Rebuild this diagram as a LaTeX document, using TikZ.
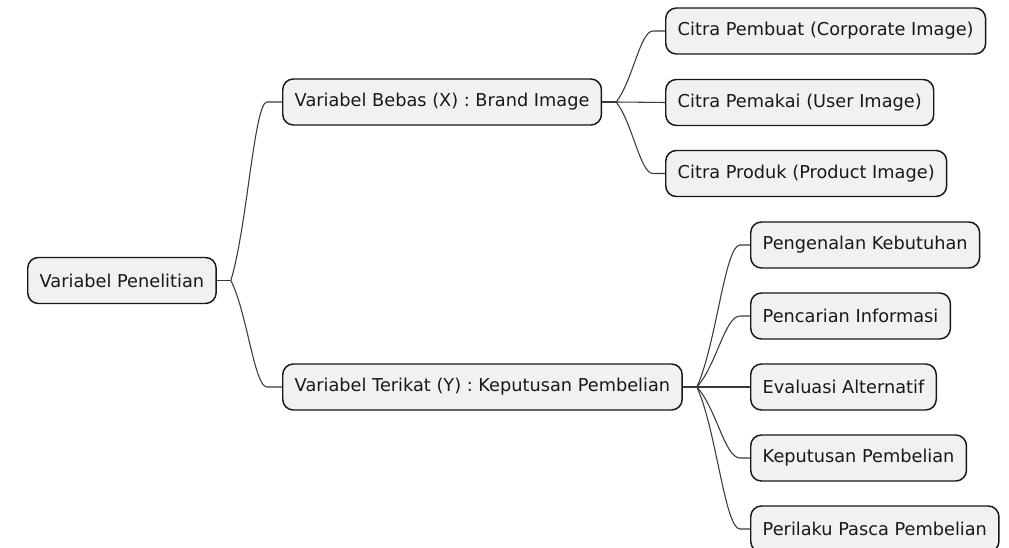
\documentclass[tikz,border=0pt]{standalone}
\usepackage{fontspec}
\setmainfont{DejaVu Sans}
\usetikzlibrary{calc}
\definecolor{boxfill}{HTML}{F1F1F1}
\definecolor{boxline}{HTML}{181818}
\definecolor{connline}{HTML}{3A3A3A}
\begin{document}
\begin{tikzpicture}[x=0.75pt,y=-0.75pt,
  mmbox/.style={draw=boxline,fill=boxfill,line width=1.1pt,rounded corners=8pt,
    inner xsep=9pt,inner ysep=0pt,minimum height=34.5pt,anchor=west,
    font=\fontsize{13.3pt}{16pt}\selectfont,text=black!90},
  conn/.style={draw=connline,line width=0.8pt}]
\useasboundingbox (0,0) rectangle (1009,548);
% nodes
\node[mmbox] (root) at (27,280.5) {Variabel Penelitian};
\node[mmbox] (bebas) at (282,102) {Variabel Bebas (X) : Brand Image};
\node[mmbox] (terikat) at (282,387) {Variabel Terikat (Y) : Keputusan Pembelian};
\node[mmbox] (pembuat) at (665,31) {Citra Pembuat (Corporate Image)};
\node[mmbox] (pemakai) at (665,102.5) {Citra Pemakai (User Image)};
\node[mmbox] (produk) at (665,173.5) {Citra Produk (Product Image)};
\node[mmbox] (kenal) at (750,245) {Pengenalan Kebutuhan};
\node[mmbox] (cari) at (750,316) {Pencarian Informasi};
\node[mmbox] (eval) at (750,387) {Evaluasi Alternatif};
\node[mmbox] (putus) at (750,458) {Keputusan Pembelian};
\node[mmbox] (laku) at (750,529) {Perilaku Pasca Pembelian};
% forks
\coordinate (f0) at ($(root.east)+(14,0)$);
\coordinate (f1) at ($(bebas.east)+(14,0)$);
\coordinate (f2) at ($(terikat.east)+(14,0)$);
\newcommand\mmlink[3]{%
  \draw[conn] let \p1=(#1), \p2=($(#2.west)+(-#3,0)$) in
    (#1) .. controls ({\x1+0.45*(\x2-\x1)},{\y1+0.3*(\y2-\y1)})
      and ({\x2-0.35*(\x2-\x1)},{\y2}) .. (\p2) -- (#2.west);}
\draw[conn] (root.east) -- (f0);
\draw[conn] (bebas.east) -- (f1);
\draw[conn] (terikat.east) -- (f2);
\mmlink{f0}{bebas}{15}
\mmlink{f0}{terikat}{15}
\mmlink{f1}{pembuat}{12}
\draw[conn] (f1) -- (pemakai.west);
\mmlink{f1}{produk}{12}
\mmlink{f2}{kenal}{10}
\mmlink{f2}{cari}{10}
\draw[conn] (f2) -- (eval.west);
\mmlink{f2}{putus}{10}
\mmlink{f2}{laku}{10}
\end{tikzpicture}
\end{document}
